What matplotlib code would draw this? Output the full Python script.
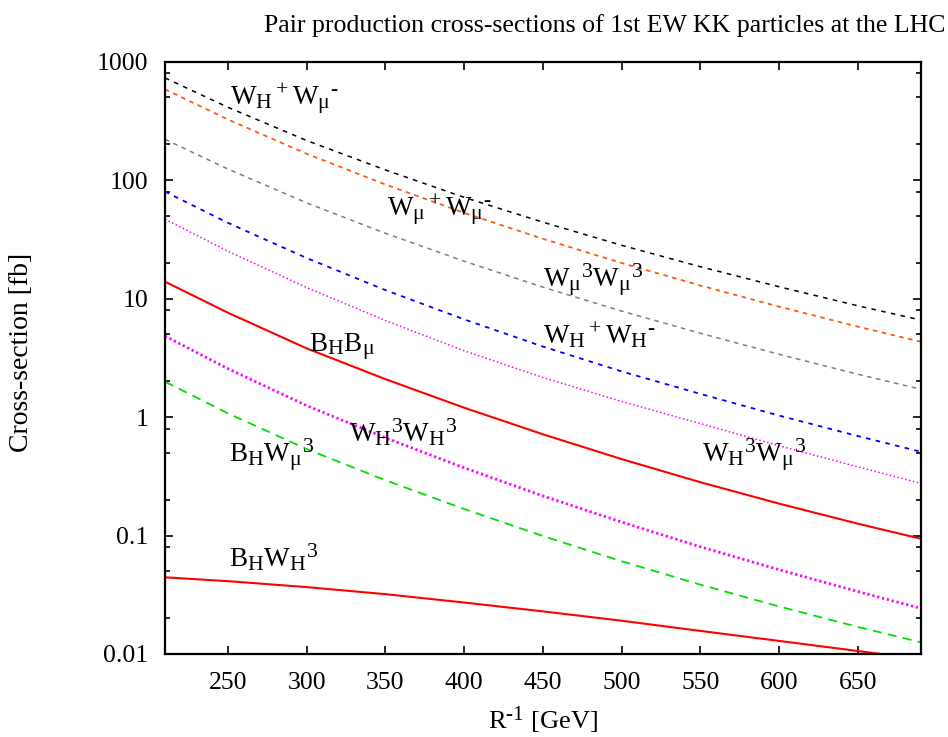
import matplotlib
matplotlib.use("Agg")
import matplotlib.pyplot as plt
from matplotlib.ticker import FixedLocator, NullFormatter, FixedFormatter
try:
    import matplotlib._mathtext as _mt
    _mt.SHRINK_FACTOR = 0.8
except Exception:
    pass

plt.rcParams['font.family'] = ['Liberation Serif', 'DejaVu Serif']
plt.rcParams['mathtext.fontset'] = 'custom'
plt.rcParams['mathtext.rm'] = 'Liberation Serif'
plt.rcParams['mathtext.it'] = 'Liberation Serif'
plt.rcParams['mathtext.bf'] = 'Liberation Serif:bold'

# R^-1 in GeV
r_inv = [210, 250, 300, 350, 400, 450, 500, 550, 600, 650, 690]

WHp_WMm = [730, 412, 216, 122, 71.6, 44.2, 28.2, 18.6, 12.6, 8.7, 6.6]
WMp_WMm = [585, 325, 167, 91.9, 53, 32, 20, 12.9, 8.56, 5.8, 4.33]
WM3_WM3 = [221, 124, 64.3, 35.6, 20.7, 12.5, 7.85, 5.1, 3.39, 2.3, 1.72]
WHp_WHm = [80, 43.6, 22, 11.8, 6.68, 3.94, 2.43, 1.57, 1.03, 0.692, 0.51]
WH3_WM3 = [46.8, 25.1, 12.4, 6.53, 3.63, 2.16, 1.355, 0.881, 0.573, 0.38, 0.276]
BH_BM = [13.9, 7.6, 3.8, 2.09, 1.2, 0.716, 0.442, 0.282, 0.186, 0.126, 0.094]
WH3_WH3 = [4.83, 2.56, 1.25, 0.668, 0.373, 0.216, 0.13, 0.0804, 0.0515, 0.0337, 0.0243]
BH_WM3 = [1.99, 1.075, 0.537, 0.293, 0.1675, 0.0991, 0.0607, 0.0385, 0.0252, 0.01694, 0.01256]
BH_WH3 = [0.0444, 0.0412, 0.0367, 0.032, 0.0272, 0.0229, 0.0191, 0.01567, 0.0129, 0.0106, 0.00906]

ytick_vals = [0.01, 0.1, 1, 10, 100, 1000]
ytick_labels = ['0.01', '0.1', '1', '10', '100', '1000']
xtick_vals = [250, 300, 350, 400, 450, 500, 550, 600, 650]

fig = plt.figure(figsize=(9.48, 7.37), dpi=100)
ax = fig.add_axes([165/948, 1-654/737, (920.7-165)/948, (654-61.7)/737])

ax.plot(r_inv, WHp_WMm, color='black', lw=1.1, dashes=(3, 3.5))
ax.plot(r_inv, WMp_WMm, color='#ff5a14', lw=1.3, dashes=(2.5, 2.5))
ax.plot(r_inv, WM3_WM3, color='#808080', lw=1.1, dashes=(3, 3))
ax.plot(r_inv, WHp_WHm, color='#0000ff', lw=1.3, dashes=(2.5, 3))
ax.plot(r_inv, WH3_WM3, color='#ff00ff', lw=1.1, dashes=(1, 1.6))
ax.plot(r_inv, BH_BM, color='#ff0000', lw=1.5)
ax.plot(r_inv, WH3_WH3, color='#ff00ff', lw=2.0, dashes=(0.8, 1.0))
ax.plot(r_inv, BH_WM3, color='#00e000', lw=1.3, dashes=(5, 3.5))
ax.plot(r_inv, BH_WH3, color='#ff0000', lw=1.5)

ax.set_yscale('log')
ax.set_xlim(210, 690)
ax.set_ylim(0.01, 1000)

ax.yaxis.set_major_locator(FixedLocator(ytick_vals))
ax.yaxis.set_major_formatter(FixedFormatter(ytick_labels))
minors = [m * 10.0**k for k in range(-2, 3) for m in (2, 5, 8)]
ax.yaxis.set_minor_locator(FixedLocator(minors))
ax.yaxis.set_minor_formatter(NullFormatter())
ax.xaxis.set_major_locator(FixedLocator(xtick_vals))
ax.xaxis.set_minor_locator(FixedLocator([]))

ax.tick_params(which='both', direction='in', top=True, right=True, labelsize=18.5, width=1.2)
ax.tick_params(which='major', length=6)
ax.tick_params(which='minor', length=3.5)
ax.tick_params(axis='y', pad=12)
ax.tick_params(axis='x', pad=13)
for s in ax.spines.values():
    s.set_linewidth(1.6)

fs = 19.5
def lab(x, y, s):
    ax.text(x, y, s, fontsize=fs, ha='left', va='baseline')

lab(251, 430, r'$\mathrm{W_H{}^+W_μ{}^‐}$')
lab(351, 50, r'$\mathrm{W_μ{}^+W_μ{}^‐}$')
lab(450.4, 12.4, r'$\mathrm{W_μ{}^3W_μ{}^3}$')
lab(450.4, 4.14, r'$\mathrm{W_H{}^+W_H{}^‐}$')
lab(551.3, 0.42, r'$\mathrm{W_H{}^3W_μ{}^3}$')
lab(301.2, 3.56, r'$\mathrm{B_HB_μ}$')
lab(326.6, 0.62, r'$\mathrm{W_H{}^3W_H{}^3}$')
lab(250.9, 0.415, r'$\mathrm{B_HW_μ{}^3}$')
lab(250.9, 0.0546, r'$\mathrm{B_HW_H{}^3}$')

fig.text(605/948, 1-32/737, 'Pair production cross-sections of 1st EW KK particles at the LHC',
         fontsize=18.6, ha='center', va='baseline')
fig.text(543/948, 1-729/737, r'$\mathrm{R^{‐1}}$ [GeV]', fontsize=19, ha='center', va='baseline')
fig.text(22/948, 1-352/737, 'Cross-section [fb]', fontsize=20, rotation=90, ha='center', va='center')

fig.savefig('out.png', dpi=100)
